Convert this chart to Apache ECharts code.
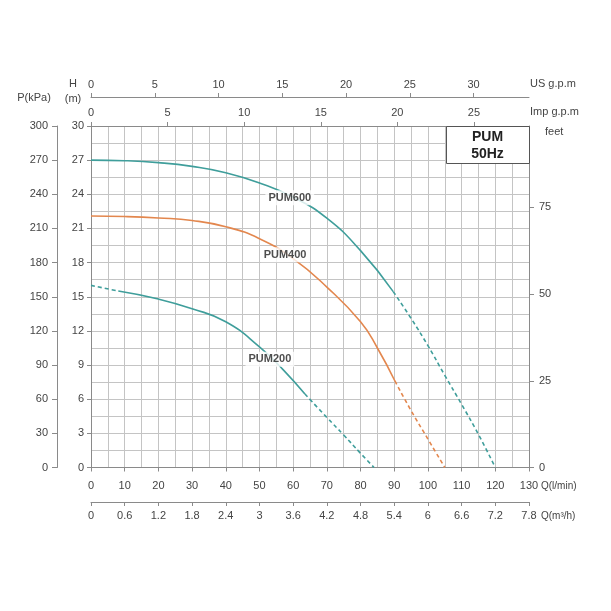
<!DOCTYPE html>
<html><head><meta charset="utf-8">
<script src="https://cdn.jsdelivr.net/npm/echarts@6/dist/echarts.min.js"></script>
<style>html,body{margin:0;padding:0;background:#fff}#c{width:611px;height:611px}</style>
</head><body><div id="c"></div>
<script>
// ---- data (Q in l/min, H in m) ----
const pum600SolidQ = [0, 10, 20, 30, 40, 50, 60, 70, 80, 89.7];
const pum600SolidH = [27, 26.95, 26.78, 26.45, 25.9, 25.0, 23.75, 21.9, 19.05, 15.45];
const pum600DashQ = [89.7, 95, 100, 105, 110, 115, 120];
const pum600DashH = [15.45, 13.1, 10.7, 8.1, 5.55, 2.9, 0];

const pum400SolidQ = [0, 10, 20, 30, 40, 50, 60, 70, 80, 85, 90.2];
const pum400SolidH = [22.1, 22.05, 21.92, 21.7, 21.15, 20.1, 18.35, 15.85, 12.8, 10.5, 7.6];
const pum400DashQ = [90.2, 95, 100, 105];
const pum400DashH = [7.6, 5.0, 2.5, 0];

const pum200DashStartQ = [0, 4, 8.1];
const pum200DashStartH = [16.0, 15.75, 15.5];
const pum200SolidQ = [8.1, 20, 30, 40, 50, 57, 63.5];
const pum200SolidH = [15.5, 14.8, 13.95, 12.8, 10.6, 8.6, 6.45];
const pum200DashEndQ = [63.5, 70, 75, 80, 84];
const pum200DashEndH = [6.45, 4.4, 2.85, 1.25, 0];

const curveNames = ['PUM600', 'PUM400', 'PUM200'];
const labelQ = [59, 57.6, 53.1];
const labelH = [23.7, 18.7, 9.5];

const usGpmTicks = [0, 5, 10, 15, 20, 25, 30];
const impGpmTicks = [0, 5, 10, 15, 20, 25];
const feetTicks = [0, 25, 50, 75];
const m3hTicks = [0, 0.6, 1.2, 1.8, 2.4, 3, 3.6, 4.2, 4.8, 5.4, 6, 6.6, 7.2, 7.8];

// ---- styles ----
const TEAL = '#3f9e9b', ORANGE = '#e3874e';
const FONT = 'Liberation Sans, Arial, sans-serif';
const TXT = '#444';
const AXC = '#8a8a8a';
const GRIDC = '#c4c4c4';

function pairs(q, h) { return q.map((v, i) => [v, h[i]]); }
function fmtNum(v) { return String(Math.round(v * 100) / 100); }

const baseLabel = { color: TXT, fontFamily: FONT, fontSize: 11 };
const line = { show: true, lineStyle: { color: AXC, width: 1 } };
const tick = { show: true, length: 4, inside: false, lineStyle: { color: AXC } };

function curve(data, color, dashed) {
  return {
    type: 'line', data: data, xAxisIndex: 0, yAxisIndex: 0,
    showSymbol: false, symbol: 'none', smooth: 0.5, silent: true,
    lineStyle: { color: color, width: 1.6, type: dashed ? [4, 3] : 'solid' },
    z: 3
  };
}

const option = {
  animation: false,
  backgroundColor: '#fff',
  grid: { left: 91, right: 82, top: 126, bottom: 143.5, containLabel: false },
  xAxis: [
    { type: 'value', position: 'bottom', min: 0, max: 130, interval: 10,
      axisLine: { ...line, onZero: false }, axisTick: tick,
      axisLabel: { ...baseLabel, margin: 13 },
      splitLine: { show: true, lineStyle: { color: GRIDC, width: 1 } },
      minorTick: { show: false, splitNumber: 2 },
      minorSplitLine: { show: true, lineStyle: { color: GRIDC, width: 1 } } },
    { type: 'value', position: 'bottom', offset: 34.5, min: 0, max: 7.8,
      axisLine: { ...line, onZero: false },
      axisTick: { ...tick, customValues: m3hTicks },
      axisLabel: { ...baseLabel, margin: 8, customValues: m3hTicks, formatter: fmtNum },
      splitLine: { show: false } },
    { type: 'value', position: 'top', min: 0, max: 130 / 4.54609,
      axisLine: { ...line, onZero: false },
      axisTick: { ...tick, customValues: impGpmTicks },
      axisLabel: { ...baseLabel, margin: 8, customValues: impGpmTicks },
      splitLine: { show: false } },
    { type: 'value', position: 'top', offset: 29, min: 0, max: 130 / 3.78541,
      axisLine: { ...line, onZero: false },
      axisTick: { ...tick, customValues: usGpmTicks },
      axisLabel: { ...baseLabel, margin: 7, customValues: usGpmTicks },
      splitLine: { show: false } }
  ],
  yAxis: [
    { type: 'value', position: 'left', min: 0, max: 30, interval: 3,
      axisLine: { ...line, onZero: false }, axisTick: tick,
      axisLabel: { ...baseLabel, margin: 7 },
      splitLine: { show: true, lineStyle: { color: GRIDC, width: 1 } },
      minorTick: { show: false, splitNumber: 2 },
      minorSplitLine: { show: true, lineStyle: { color: GRIDC, width: 1 } } },
    { type: 'value', position: 'left', offset: 34, min: 0, max: 300, interval: 30,
      axisLine: { ...line, onZero: false }, axisTick: { ...tick, length: 5 },
      axisLabel: { ...baseLabel, margin: 9 },
      splitLine: { show: false } },
    { type: 'value', position: 'right', min: 0, max: 30 / 0.3048,
      axisLine: { ...line, onZero: false },
      axisTick: { ...tick, length: 5, customValues: feetTicks },
      axisLabel: { ...baseLabel, margin: 10, customValues: feetTicks },
      splitLine: { show: false } }
  ],
  series: [
    curve(pairs(pum600SolidQ, pum600SolidH), TEAL, false),
    curve(pairs(pum600DashQ, pum600DashH), TEAL, true),
    curve(pairs(pum400SolidQ, pum400SolidH), ORANGE, false),
    curve(pairs(pum400DashQ, pum400DashH), ORANGE, true),
    curve(pairs(pum200DashStartQ, pum200DashStartH), TEAL, true),
    curve(pairs(pum200SolidQ, pum200SolidH), TEAL, false),
    curve(pairs(pum200DashEndQ, pum200DashEndH), TEAL, true),
    { type: 'scatter', xAxisIndex: 0, yAxisIndex: 0, symbolSize: 0, silent: true, z: 10,
      data: curveNames.map((n, i) => ({ name: n, value: [labelQ[i], labelH[i]] })),
      label: { show: true, position: 'inside', formatter: p => p.name,
        color: '#222', fontFamily: FONT, fontSize: 11, fontWeight: 'bold',
        backgroundColor: '#fff', padding: [2, 3] } }
  ],
  graphic: [
    { type: 'rect', left: 446, top: 126, z: 20,
      shape: { width: 83, height: 37 },
      style: { fill: '#fff', stroke: '#555', lineWidth: 1 } },
    { type: 'text', z: 21, x: 487.5, y: 137, style: { text: 'PUM', fill: '#222', font: 'bold 14px ' + FONT, textAlign: 'center', textVerticalAlign: 'middle' } },
    { type: 'text', z: 21, x: 487.5, y: 154, style: { text: '50Hz', fill: '#222', font: 'bold 14px ' + FONT, textAlign: 'center', textVerticalAlign: 'middle' } },
    { type: 'text', x: 34, y: 98, style: { text: 'P(kPa)', fill: TXT, font: '11px ' + FONT, textAlign: 'center', textVerticalAlign: 'middle' } },
    { type: 'text', x: 73, y: 84, style: { text: 'H', fill: TXT, font: '11px ' + FONT, textAlign: 'center', textVerticalAlign: 'middle' } },
    { type: 'text', x: 73, y: 99, style: { text: '(m)', fill: TXT, font: '11px ' + FONT, textAlign: 'center', textVerticalAlign: 'middle' } },
    { type: 'text', x: 530, y: 84, style: { text: 'US g.p.m', fill: TXT, font: '11px ' + FONT, textAlign: 'left', textVerticalAlign: 'middle' } },
    { type: 'text', x: 530, y: 112, style: { text: 'Imp g.p.m', fill: TXT, font: '11px ' + FONT, textAlign: 'left', textVerticalAlign: 'middle' } },
    { type: 'text', x: 545, y: 132, style: { text: 'feet', fill: TXT, font: '11px ' + FONT, textAlign: 'left', textVerticalAlign: 'middle' } },
    { type: 'text', x: 541, y: 486, style: { text: 'Q(l/min)', fill: TXT, font: '10px ' + FONT, textAlign: 'left', textVerticalAlign: 'middle' } },
    { type: 'text', x: 541, y: 516, style: { text: 'Q(m³/h)', fill: TXT, font: '10px ' + FONT, textAlign: 'left', textVerticalAlign: 'middle' } }
  ]
};

const chart = echarts.init(document.getElementById('c'), null, { renderer: 'canvas' });
chart.setOption(option);
</script>
</body></html>
